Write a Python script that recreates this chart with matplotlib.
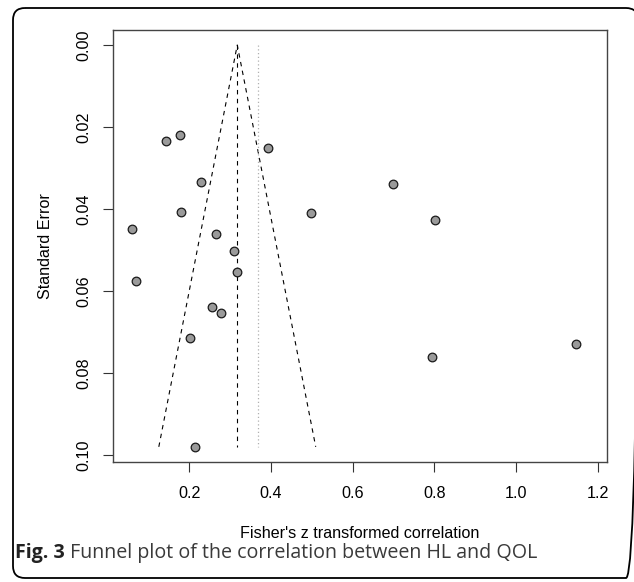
import matplotlib
matplotlib.use("Agg")
import matplotlib.pyplot as plt
from matplotlib.patches import FancyBboxPatch
import numpy as np

# ---- data ----
fisher_z = [0.143, 0.177, 0.393, 0.228, 0.179, 0.499, 0.060, 0.265, 0.309, 0.316,
            0.070, 0.255, 0.277, 0.2025, 0.213, 0.699, 0.801, 0.795, 1.148]
std_err = [0.0235, 0.0220, 0.0250, 0.0333, 0.0408, 0.0410, 0.0449, 0.0461, 0.0502, 0.0553,
           0.0576, 0.0638, 0.0653, 0.0714, 0.0980, 0.0338, 0.0426, 0.0762, 0.0728]
fixed_est = 0.3175
random_est = 0.369
x_ticks = [0.2, 0.4, 0.6, 0.8, 1.0, 1.2]
x_ticklabels = ["0.2", "0.4", "0.6", "0.8", "1.0", "1.2"]
y_ticks = [0.00, 0.02, 0.04, 0.06, 0.08, 0.10]
y_ticklabels = ["0.00", "0.02", "0.04", "0.06", "0.08", "0.10"]
xlabel = "Fisher's z transformed correlation"
ylabel = "Standard Error"
caption_bold = "Fig. 3"
caption_rest = " Funnel plot of the correlation between HL and QOL"

W, H = 634, 582
fig = plt.figure(figsize=(W / 100, H / 100), dpi=100)

# background axes in pixel coordinates for frame and caption
bg = fig.add_axes([0, 0, 1, 1], zorder=0)
bg.set_xlim(0, W)
bg.set_ylim(H, 0)
bg.axis("off")
frame = FancyBboxPatch((13, 8), 638 - 13, 578 - 8,
                       boxstyle="round,pad=0,rounding_size=12",
                       fill=False, ec="black", lw=1.3, clip_on=True)
bg.add_patch(frame)

FS = 11.6
FONT = "Liberation Sans"

# main axes
L, R, T, B = 113.3, 606.7, 30, 462
ax = fig.add_axes([L / W, 1 - B / H, (R - L) / W, (B - T) / H], zorder=1)
ax.set_xlim(0.014, 1.222)
ax.set_ylim(0.1017, -0.00366)

se_max = max(std_err)
crit = 1.96
# funnel
ax.plot([fixed_est - crit * se_max, fixed_est, fixed_est + crit * se_max],
        [se_max, 0, se_max], color="black", lw=0.8, linestyle=(0, (4, 4)))
ax.plot([fixed_est, fixed_est], [0, se_max], color="black", lw=0.8, linestyle=(0, (4, 4)))
ax.plot([random_est, random_est], [0, se_max], color="#b0b0b0", lw=0.9, linestyle=(0, (1, 2)))

ax.plot(fisher_z, std_err, linestyle="none", marker="o", ms=6.2, mfc="#9a9a9a",
        mec="#1a1a1a", mew=0.9, zorder=3)

for s in ax.spines.values():
    s.set_color("#444444")
    s.set_linewidth(1.0)

ax.set_xticks(x_ticks)
ax.set_xticklabels(x_ticklabels, fontsize=FS, family=FONT)
ax.set_yticks(y_ticks)
ax.set_yticklabels(y_ticklabels, fontsize=FS, family=FONT,
                   rotation=90, va="center")
ax.tick_params(axis="x", length=7.2, width=0.8, color="#333333", pad=10)
ax.tick_params(axis="y", length=7.2, width=0.8, color="#333333", pad=8.5)

fig.text(360 / W, 1 - 533 / H, xlabel, ha="center", va="center",
         fontsize=FS, family=FONT)
fig.text(45 / W, 1 - 246 / H, ylabel, ha="center", va="center", rotation=90,
         fontsize=FS, family=FONT)

# caption
fig.canvas.draw()
r = fig.canvas.get_renderer()
t1 = bg.text(15, 553, caption_bold, fontsize=13, fontweight="bold", family="Open Sans",
             color="#222222", va="center", ha="left")
bb1 = t1.get_window_extent(r)
t2 = bg.text(15 + bb1.width, 553, caption_rest, fontsize=13, family="Open Sans",
             color="#3a3a3a", va="center", ha="left")
bb2 = t2.get_window_extent(r)
total = bb1.width + bb2.width
scale = (534 - 15) / total
size = 13 * scale
t1.set_fontsize(size)
t2.set_fontsize(size)
bb1 = t1.get_window_extent(r)
t2.set_x(15 + bb1.width)

fig.savefig("out.png", dpi=100)
